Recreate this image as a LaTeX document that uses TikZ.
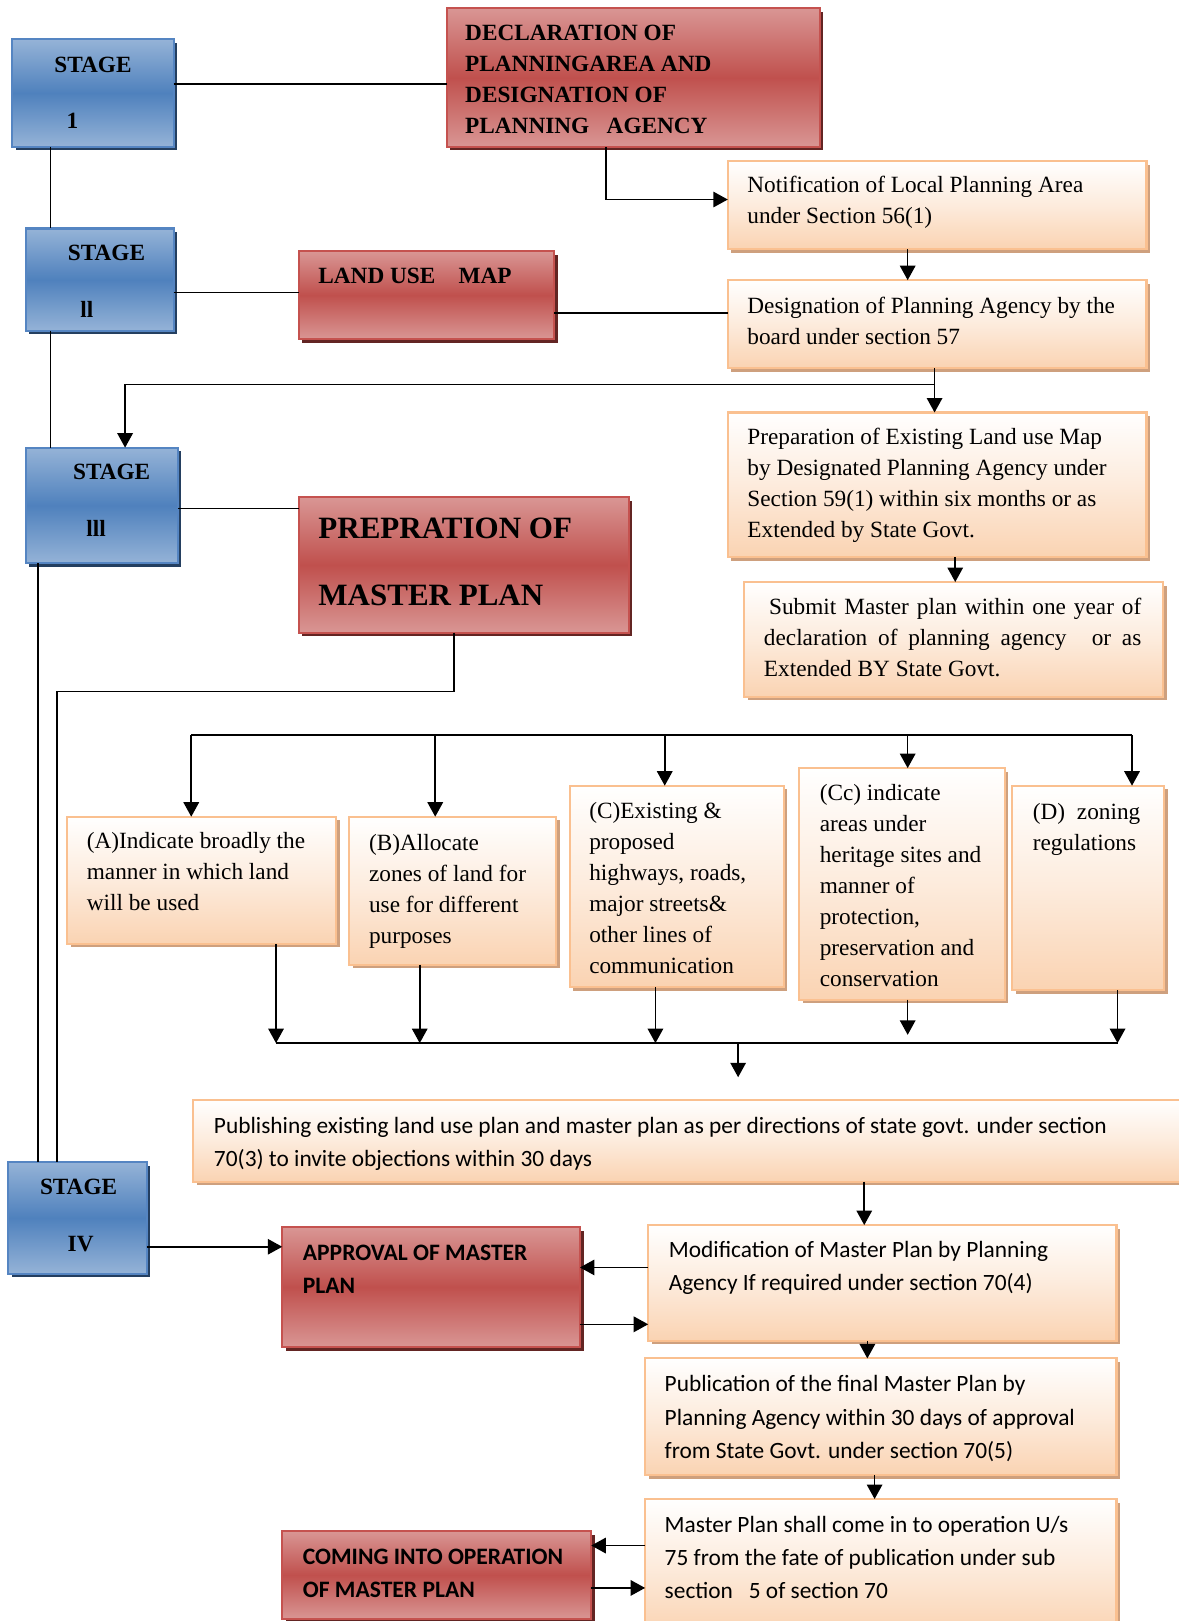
\documentclass[tikz,border=0pt]{standalone}
\usepackage{fontspec}
\setmainfont{Liberation Serif}
\newfontfamily\calib{Carlito}
\usetikzlibrary{arrows.meta,shadows}
\definecolor{blueL}{HTML}{95B3D7}
\definecolor{blueD}{HTML}{4F81BD}
\definecolor{blueB}{HTML}{5585C2}
\definecolor{blueS}{HTML}{243F60}
\definecolor{redL}{HTML}{D99694}
\definecolor{redD}{HTML}{C0504D}
\definecolor{redB}{HTML}{C5524F}
\definecolor{redS}{HTML}{632523}
\definecolor{orL}{HTML}{FAD3B2}
\definecolor{orB}{HTML}{FAC090}
\definecolor{orS}{HTML}{CEA07E}
\newcommand{\fser}{\fontsize{22.5}{30}\selectfont}
\newcommand{\fserb}{\fontsize{22.5}{30}\selectfont\bfseries}
\newcommand{\fbig}{\fontsize{30}{65}\selectfont\bfseries}
\newcommand{\fsan}{\calib\fontsize{22.6}{32}\selectfont}
\newcommand{\fsanb}{\calib\bfseries\fontsize{22.8}{32}\selectfont}
\begin{document}
\begin{tikzpicture}[x=1pt,y=-1pt,
  box/.style={anchor=north west, inner sep=0pt, outer sep=0pt, line width=2pt},
  bluebox/.style={box, draw=blueB, top color=blueL, bottom color=blueL, middle color=blueD,
     drop shadow={shadow xshift=3.5pt, shadow yshift=-3.5pt, fill=blueS, opacity=1}},
  redbox/.style={box, draw=redB, top color=redL, bottom color=redL, middle color=redD,
     drop shadow={shadow xshift=3.5pt, shadow yshift=-3.5pt, fill=redS, opacity=1}},
  orbox/.style={box, draw=orB, top color=white, bottom color=orL, middle color=orL!45!white,
     drop shadow={shadow xshift=3.5pt, shadow yshift=-3.5pt, fill=orS, opacity=1}},
  txt/.style={anchor=north west, inner sep=0pt, outer sep=0pt, align=left},
  stg/.style={anchor=base, inner sep=0pt, font=\fserb},
  conn/.style={line width=1.5pt, draw=black},
  arr/.style={conn, -{Triangle[length=14pt,width=15pt]}}
]
\useasboundingbox (0,0) rectangle (1140,1568);
\fill[white] (0,0) rectangle (1140,1568);

% ---------- boxes ----------
\node[bluebox, minimum width=156, minimum height=104] (s1) at (12,38) {};
\node[bluebox, minimum width=143, minimum height=99] (s2) at (25,221) {};
\node[bluebox, minimum width=147, minimum height=112] (s3) at (25,433) {};
\node[bluebox, minimum width=134, minimum height=108] (s4) at (8,1124) {};

\node[redbox, minimum width=361, minimum height=134] (decl) at (432,8) {};
\node[redbox, minimum width=247, minimum height=85] (landuse) at (289,243) {};
\node[redbox, minimum width=319, minimum height=131] (prepm) at (289,481) {};
\node[redbox, minimum width=288, minimum height=116] (approval) at (273,1187) {};
\node[redbox, minimum width=299, minimum height=85] (coming) at (273,1481) {};

\node[orbox, minimum width=405, minimum height=85] (notif) at (704,156) {};
\node[orbox, minimum width=405, minimum height=85] (desig) at (704,271) {};
\node[orbox, minimum width=405, minimum height=140] (prep) at (704,399) {};
\node[orbox, minimum width=405, minimum height=111] (submit) at (720,563) {};
\node[orbox, minimum width=260, minimum height=123] (boxA) at (65,790) {};
\node[orbox, minimum width=200, minimum height=143] (boxB) at (338,790) {};
\node[orbox, minimum width=207, minimum height=195] (boxC) at (551,760) {};
\node[orbox, minimum width=199, minimum height=224] (boxCc) at (773,743) {};
\node[orbox, minimum width=147, minimum height=198] (boxD) at (979,760) {};
\node[orbox, minimum width=965, minimum height=79] (pub) at (187,1064) {};
\node[orbox, minimum width=453, minimum height=112] (modif) at (627,1185) {};
\node[orbox, minimum width=456, minimum height=113] (publication) at (624,1314) {};
\node[orbox, minimum width=456, minimum height=130] (masterop) at (624,1450) {};

% ---------- texts ----------
\node[stg] (s1a) at (90,70) {STAGE};
\node[stg] (s1b) at (70,124) {1};
\node[stg] (s2a) at (103,252) {STAGE};
\node[stg] (s2b) at (84,307) {ll};
\node[stg] (s3a) at (108,464) {STAGE};
\node[stg] (s3b) at (93,519) {lll};
\node[stg] (s4a) at (76,1155) {STAGE};
\node[stg] (s4b) at (78,1211) {IV};

\node[txt, font=\fserb] (declT) at (450,18) {\strut DECLARATION OF\\PLANNINGAREA AND\\DESIGNATION OF\\PLANNING\ \ \ AGENCY};
\node[txt, font=\fserb] (landuseT) at (308,253) {\strut LAND USE\ \ \ \ MAP};
\node[txt, font=\fbig] (prepmT) at (308,475) {\strut PREPRATION OF\\MASTER PLAN};

\node[txt, font=\fser] (notifT) at (723,165) {\strut Notification of Local Planning Area\\under Section 56(1)};
\node[txt, font=\fser] (desigT) at (723,282) {\strut Designation of Planning Agency by the\\board under section 57};
\node[txt, font=\fser] (prepT) at (723,409) {\strut Preparation of Existing Land use Map\\by Designated Planning Agency under\\Section 59(1) within six months or as\\Extended by State Govt.};
\node[txt, font=\fser] (submitT) at (739,573) {\strut\makebox[365pt][s]{\hspace{5pt}Submit Master plan within one year of}\\\makebox[365pt][s]{declaration of planning agency\hspace{14pt} or as}\\Extended BY State Govt.};
\node[txt, font=\fser] (boxAT) at (84,800) {\strut (A)Indicate broadly the\\manner in which land\\will be used};
\node[txt, font=\fser] (boxBT) at (357,802) {\strut (B)Allocate\\zones of land for\\use for different\\purposes};
\node[txt, font=\fser] (boxCT) at (570,771) {\strut (C)Existing \&\\proposed\\highways, roads,\\major streets\&\\other lines of\\communication};
\node[txt, font=\fser] (boxCcT) at (793,753) {\strut (Cc) indicate\\areas under\\heritage sites and\\manner of\\protection,\\preservation and\\conservation};
\node[txt, font=\fser] (boxDT) at (999,772) {\strut\makebox[104pt][s]{(D)\ \ zoning}\\regulations};

\node[txt, font=\fsan] (pubT) at (207,1074) {\strut Publishing existing land use plan and master plan as per directions of state govt. under section\\70(3) to invite objections within 30 days};
\node[txt, font=\fsan] (modifT) at (647,1194) {\strut Modification of Master Plan by Planning\\Agency If required under section 70(4)};
\node[txt, font=\fsan] (publicationT) at (643,1324) {\strut Publication of the final Master Plan by\\Planning Agency within 30 days of approval\\from State Govt. under section 70(5)};
\node[txt, font=\fsan] (masteropT) at (643,1460) {\strut Master Plan shall come in to operation U/s\\75 from the fate of publication under sub\\section\ \ \ 5 of section 70};
\node[txt, font=\fsanb] (approvalT) at (293,1197) {\strut APPROVAL OF MASTER\\PLAN};
\node[txt, font=\fsanb] (comingT) at (293,1491) {\strut COMING INTO OPERATION\\OF MASTER PLAN};

% ---------- connectors ----------
\draw[conn] (s1.east |- 0,81) -- (decl.west |- 0,81);
\draw[conn] (s1.south -| 49,0) -- (s2.north -| 49,0);
\draw[conn] (s2.east |- 0,283) -- (landuse.west |- 0,283);
\draw[conn] (landuse.east |- 0,303) -- (desig.west |- 0,303);
\draw[conn] (s2.south -| 49,0) -- (s3.north -| 49,0);
\draw[arr] (decl.south -| 586,0) |- (notif.west |- 0,193);
\draw[arr] (notif.south -| 878,0) -- (desig.north -| 878,0);
\draw[arr] (desig.south -| 904,0) -- (prep.north -| 904,0);
\coordinate (j1) at (904,372);
\draw[arr] (j1) -| (s3.north -| 121,0);
\draw[conn] (s3.east |- 0,492) -- (prepm.west |- 0,492);
\draw[arr] (prep.south -| 924,0) -- (submit.north -| 924,0);
\coordinate (j2) at (55,669);
\draw[conn] (prepm.south -| 439,0) |- (j2) -- (s4.north -| j2);
\draw[conn] (s3.south -| 37,0) -- (s4.north -| 37,0);

% distribution
\coordinate (d1) at (185,711);
\coordinate (d2) at (421,711);
\coordinate (d3) at (643,711);
\coordinate (d4) at (878,711);
\coordinate (d5) at (1095,711);
\draw[conn] (d1) -- (d5);
\draw[arr] (d1) -- (boxA.north -| d1);
\draw[arr] (d2) -- (boxB.north -| d2);
\draw[arr] (d3) -- (boxC.north -| d3);
\draw[arr] (d4) -- (boxCc.north -| d4);
\draw[arr] (d5) -- (boxD.north -| d5);

% collection
\coordinate (c1) at (267,1009);
\coordinate (c2) at (406,1009);
\coordinate (c3) at (634,1009);
\coordinate (c4) at (878,1009);
\coordinate (c5) at (1081,1009);
\coordinate (c6) at (714,1009);
\draw[conn] (c1) -- (c5);
\draw[arr] (boxA.south -| c1) -- (c1);
\draw[arr] (boxB.south -| c2) -- (c2);
\draw[arr] (boxC.south -| c3) -- (c3);
\draw[arr] (boxCc.south -| c4) -- (c4 |- 0,1001);
\draw[arr] (boxD.south -| c5) -- (c5);
\draw[arr] (c6) -- (c6 |- 0,1042);

\draw[arr] (pub.south -| 836,0) -- (modif.north -| 836,0);
\draw[arr] (s4.east |- 0,1206) -- (approval.west |- 0,1206);
\draw[arr] (modif.west |- 0,1226) -- (approval.east |- 0,1226);
\draw[arr] (approval.east |- 0,1281) -- (modif.west |- 0,1281);
\draw[arr] (modif.south -| 839,0) -- (publication.north -| 839,0);
\draw[arr] (publication.south -| 846,0) -- (masterop.north -| 846,0);
\draw[arr] (masterop.west |- 0,1495) -- (coming.east |- 0,1495);
\draw[arr] (coming.east |- 0,1536) -- (masterop.west |- 0,1536);
\end{tikzpicture}
\end{document}
